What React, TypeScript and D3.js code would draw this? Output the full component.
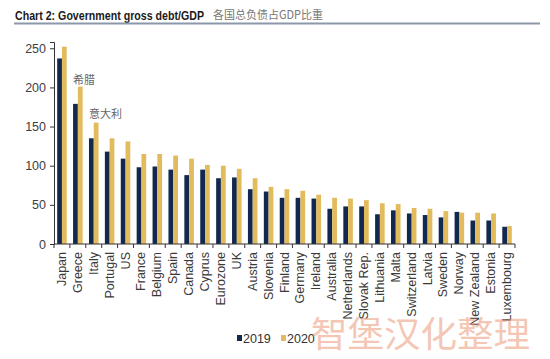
import React, { useRef, useEffect } from 'react';
import * as d3 from 'd3';

const COUNTRIES: string[] = [
  'Japan', 'Greece', 'Italy', 'Portugal', 'US', 'France', 'Belgium', 'Spain', 'Canada', 'Cyprus',
  'Eurozone', 'UK', 'Austria', 'Slovenia', 'Finland', 'Germany', 'Ireland', 'Australia', 'Netherlands',
  'Slovak Rep.', 'Lithuania', 'Malta', 'Switzerland', 'Latvia', 'Sweden', 'Norway', 'New Zealand',
  'Estonia', 'Luxembourg',
];

const DEBT_2019: number[] = [
  237, 179, 135, 118, 109, 98, 99, 95, 88, 95,
  84, 85, 70, 67, 59, 59, 58, 45, 48,
  48, 38, 43, 39, 37, 34, 41, 30,
  30, 22,
];

const DEBT_2020: number[] = [
  252, 201, 155, 135, 131, 115, 115, 113, 109, 101,
  100, 96, 84, 73, 70, 68, 63, 59, 58,
  56, 52, 51, 46, 45, 42, 40, 40,
  39, 23,
];

const SERIES = ['2019', '2020'];
const Y_TICKS = [0, 50, 100, 150, 200, 250];

const NOTES = [
  { country: 'Greece', text: '希腊', value: 204 },
  { country: 'Italy', text: '意大利', value: 161 },
];

const COLORS: Record<string, string> = { '2019': '#12294f', '2020': '#e2bb5c' };

const App: React.FC = () => {
  const svgRef = useRef<SVGSVGElement>(null);

  useEffect(() => {
    if (!svgRef.current) return;
    const svg = d3.select(svgRef.current);
    svg.selectAll('*').remove();

    const left = 54, right = 515, top = 42, bottom = 244;
    const font = 'Liberation Sans, Arial, sans-serif';
    const narrow = 'Liberation Sans Narrow, Liberation Sans, sans-serif';

    // Title
    svg.append('text')
      .attr('x', 15).attr('y', 20)
      .attr('font-family', narrow)
      .attr('font-weight', 'bold').attr('font-size', 13)
      .attr('fill', '#1a1a1a')
      .attr('textLength', 189).attr('lengthAdjust', 'spacingAndGlyphs')
      .text('Chart 2: Government gross debt/GDP');
    svg.append('text')
      .attr('x', 213).attr('y', 19)
      .attr('font-family', 'Noto Sans CJK SC, sans-serif')
      .attr('font-size', 11.5)
      .attr('fill', '#777')
      .attr('textLength', 110).attr('lengthAdjust', 'spacingAndGlyphs')
      .text('各国总负债占GDP比重');
    svg.append('line')
      .attr('x1', 14).attr('x2', 540).attr('y1', 23.5).attr('y2', 23.5)
      .attr('stroke', '#8a98aa').attr('stroke-width', 2);

    const x = d3.scaleBand<string>().domain(COUNTRIES).range([left, right]).paddingInner(0.4).paddingOuter(0.2);
    const xs = d3.scaleBand<string>().domain(SERIES).range([0, x.bandwidth()]);
    const y = d3.scaleLinear().domain([0, 258]).range([bottom, top]);

    const rows = COUNTRIES.map((c, i) => ({ country: c, values: [DEBT_2019[i], DEBT_2020[i]] }));

    // Bars
    const groups = svg.append('g').selectAll('g')
      .data(rows)
      .join('g')
      .attr('transform', d => `translate(${x(d.country)},0)`);
    groups.selectAll('rect')
      .data(d => d.values.map((v, j) => ({ key: SERIES[j], value: v })))
      .join('rect')
      .attr('x', d => xs(d.key)!)
      .attr('y', d => y(d.value))
      .attr('width', xs.bandwidth())
      .attr('height', d => bottom - y(d.value))
      .attr('fill', d => COLORS[d.key]);

    // Y axis
    const yAxis = svg.append('g')
      .attr('transform', `translate(${left},0)`)
      .call(d3.axisLeft(y).tickValues(Y_TICKS).tickSize(4).tickPadding(4));
    yAxis.select('.domain').attr('stroke', '#333');
    yAxis.selectAll('.tick line').attr('stroke', '#333');
    yAxis.selectAll('text')
      .attr('fill', '#404040').attr('font-size', 12.5).attr('font-family', font);

    // X axis with ticks at category boundaries
    const xAxis = svg.append('g').attr('transform', `translate(0,${bottom})`);
    xAxis.append('line')
      .attr('x1', left).attr('x2', right).attr('y1', 0).attr('y2', 0)
      .attr('stroke', '#333');
    const step = x.step();
    xAxis.selectAll('.bt')
      .data(d3.range(COUNTRIES.length + 1))
      .join('line')
      .attr('x1', i => left + i * step).attr('x2', i => left + i * step)
      .attr('y1', 0).attr('y2', 4)
      .attr('stroke', '#333');
    xAxis.selectAll('.lbl')
      .data(COUNTRIES)
      .join('text')
      .attr('transform', d => `translate(${x(d)! + x.bandwidth() / 2 + 4},8) rotate(-90)`)
      .attr('text-anchor', 'end')
      .attr('font-family', narrow)
      .attr('font-size', 12.5)
      .attr('fill', '#3a3a3a')
      .text(d => d);

    // Annotations
    svg.selectAll('.note')
      .data(NOTES)
      .join('text')
      .attr('x', d => x(d.country)!)
      .attr('y', d => y(d.value))
      .attr('font-family', 'Noto Sans CJK SC, sans-serif')
      .attr('font-size', 11)
      .attr('fill', '#666')
      .text(d => d.text);

    // Legend
    const legend = svg.append('g').attr('transform', 'translate(237,338)');
    const item = legend.selectAll('g')
      .data(SERIES)
      .join('g')
      .attr('transform', (_, i) => `translate(${i * 44},0)`);
    item.append('rect')
      .attr('x', 0).attr('y', -3).attr('width', 5).attr('height', 6)
      .attr('fill', d => COLORS[d]);
    item.append('text')
      .attr('x', 6).attr('y', 4.5)
      .attr('font-family', narrow)
      .attr('font-size', 12.5)
      .attr('fill', '#333')
      .text(d => d);

    // Watermark
    svg.append('text')
      .attr('x', 311).attr('y', 347)
      .attr('font-family', 'Noto Sans CJK SC, sans-serif')
      .attr('font-size', 35)
      .attr('fill', '#eb9a78').attr('opacity', 0.55)
      .attr('textLength', 219).attr('lengthAdjust', 'spacingAndGlyphs')
      .text('智堡汉化整理');
  }, []);

  return (
    <svg
      ref={svgRef}
      width={550}
      height={359}
      style={{ position: 'absolute', left: 0, top: 0, background: '#fff' }}
    />
  );
};

export default App;
